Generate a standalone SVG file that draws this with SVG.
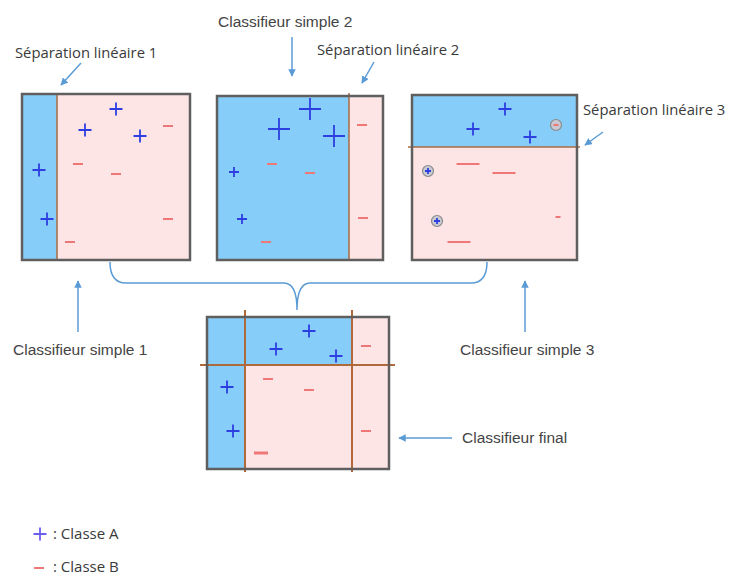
<svg xmlns="http://www.w3.org/2000/svg" xmlns:xlink="http://www.w3.org/1999/xlink" width="729" height="576" viewBox="0 0 729 576">
<style>
.blue{fill:#86cdf9}
.pink{fill:#fde5e5}
.frame{fill:none;stroke:#5f5f5f;stroke-width:2.5}
.sep{stroke:#a86a40;stroke-width:1.5;fill:none}
.sep2{stroke:#b0693a;stroke-width:2;fill:none}
.plus{stroke:#2d3fe0;stroke-width:1.8;fill:none}
.minus{stroke:#f07777;stroke-width:2;fill:none}
.circ{fill:#c9c9d4;stroke:#8a8a8a;stroke-width:1.2}
.arrow{stroke:#5b9bd5;stroke-width:1.5;fill:none}
.lbl{font-family:"Open Sans","Liberation Sans",sans-serif;font-size:14.8px;fill:#3a3a3a}
.leg{font-family:"Open Sans","Liberation Sans",sans-serif;font-size:15px;fill:#3a3a3a}
.cls{font-family:"Liberation Sans",Arial,sans-serif;font-size:15.5px;fill:#444}
</style>
<defs>
<path id="p" d="M-6.5,0H6.5M0,-6.5V6.5"/>
<path id="ps" d="M-5,0H5M0,-5V5"/>
<path id="P" d="M-11,0H11M0,-11V11"/>
<path id="pc" d="M-3,0H3M0,-3V3"/>
<path id="m" d="M-5,0H5"/>
<path id="M" d="M-11.5,0H11.5"/>
<path id="mt" d="M-2.5,0H2.5"/>
<marker id="ah" viewBox="0 0 10 10" refX="9" refY="5" markerWidth="5" markerHeight="5" orient="auto-start-reverse">
<path d="M0,0L10,5L0,10z" fill="#5b9bd5"/>
</marker>
</defs>

<g id="box1">
<rect class="blue" x="22" y="94" width="35" height="166"/>
<rect class="pink" x="57" y="94" width="133" height="166"/>
<line class="sep" x1="57" y1="93" x2="57" y2="261"/>
<rect class="frame" x="22" y="94" width="168" height="166"/>
<g class="plus">
<use href="#p" x="116" y="109"/><use href="#p" x="85" y="130"/><use href="#p" x="140" y="136"/>
<use href="#p" x="39" y="170"/><use href="#p" x="47" y="219"/>
</g>
<g class="minus">
<use href="#m" x="168" y="126"/><use href="#m" x="78" y="164"/><use href="#m" x="116" y="174"/>
<use href="#m" x="168" y="219"/><use href="#m" x="70" y="242"/>
</g>
</g>

<g id="box2">
<rect class="blue" x="217" y="96" width="132" height="164"/>
<rect class="pink" x="349" y="96" width="34" height="164"/>
<line class="sep" x1="349" y1="93" x2="349" y2="261"/>
<rect class="frame" x="217" y="96" width="166" height="164"/>
<g class="plus">
<use href="#P" x="310" y="109"/><use href="#P" x="279" y="129"/><use href="#P" x="334" y="136"/>
<use href="#ps" x="234" y="172"/><use href="#ps" x="242" y="219"/>
</g>
<g class="minus">
<use href="#m" x="362" y="125"/><use href="#m" x="272" y="164"/><use href="#m" x="310" y="173"/>
<use href="#m" x="363" y="218"/><use href="#m" x="266" y="242"/>
</g>
</g>

<g id="box3">
<rect class="blue" x="412" y="95" width="165" height="52"/>
<rect class="pink" x="412" y="147" width="165" height="113"/>
<line class="sep" x1="408" y1="147" x2="580" y2="147"/>
<rect class="frame" x="412" y="95" width="165" height="165"/>
<g class="plus">
<use href="#p" x="505" y="109"/><use href="#p" x="473" y="129"/><use href="#p" x="530" y="137"/>
</g>
<circle class="circ" cx="556" cy="125" r="5.5"/>
<circle class="circ" cx="428" cy="171" r="5.5"/>
<circle class="circ" cx="437" cy="221" r="5.5"/>
<g class="plus">
<use href="#pc" x="428" y="171"/><use href="#pc" x="437" y="221"/>
</g>
<g class="minus">
<path d="M553.5,125H558.5"/>
<use href="#M" x="468" y="164"/><use href="#M" x="504" y="173"/>
<use href="#mt" x="558" y="217"/><use href="#M" x="459" y="242"/>
</g>
</g>

<g id="final">
<rect class="pink" x="207" y="317" width="182" height="152"/>
<rect class="blue" x="207" y="317" width="38" height="152"/>
<rect class="blue" x="245" y="317" width="107" height="48"/>
<line class="sep2" x1="245" y1="310" x2="245" y2="472"/>
<line class="sep2" x1="352" y1="310" x2="352" y2="472"/>
<line class="sep2" x1="200" y1="365" x2="395" y2="365"/>
<rect class="frame" x="207" y="317" width="182" height="152"/>
<g class="plus">
<use href="#p" x="309" y="331"/><use href="#p" x="276" y="349"/><use href="#p" x="336" y="356"/>
<use href="#p" x="227" y="387"/><use href="#p" x="233" y="431"/>
</g>
<g class="minus">
<use href="#m" x="366" y="346"/><use href="#m" x="268" y="379"/><use href="#m" x="309" y="390"/>
<use href="#m" x="366" y="431"/><path d="M254,453H268" style="stroke-width:3"/>
</g>
</g>

<g id="connectors">
<path class="arrow" d="M110,262Q110,283 126,283H284Q297,283 297,310Q297,283 310,283H471Q487,283 487,262"/>
<line class="arrow" x1="81" y1="63" x2="61" y2="85" marker-end="url(#ah)"/>
<line class="arrow" x1="292" y1="37" x2="292" y2="76" marker-end="url(#ah)"/>
<line class="arrow" x1="374" y1="62" x2="362" y2="83" marker-end="url(#ah)"/>
<line class="arrow" x1="603" y1="132" x2="585" y2="145" marker-end="url(#ah)"/>
<line class="arrow" x1="78" y1="332" x2="78" y2="281" marker-end="url(#ah)"/>
<line class="arrow" x1="525" y1="332" x2="525" y2="281" marker-end="url(#ah)"/>
<line class="arrow" x1="452" y1="438" x2="399" y2="438" marker-end="url(#ah)"/>
</g>

<g id="labels">
<text class="lbl" x="15" y="58">Séparation linéaire 1</text>
<text class="cls" x="218" y="27">Classifieur simple 2</text>
<text class="lbl" x="317" y="55">Séparation linéaire 2</text>
<text class="lbl" x="583" y="115">Séparation linéaire 3</text>
<text class="cls" x="13" y="355">Classifieur simple 1</text>
<text class="cls" x="460" y="355">Classifieur simple 3</text>
<text class="cls" x="462" y="443">Classifieur final</text>
</g>

<g id="legend">
<use href="#p" x="40" y="534" class="plus" style="stroke:#6a5df0"/>
<text class="leg" x="53" y="539">: Classe A</text>
<use href="#m" x="39" y="568" class="minus"/>
<text class="leg" x="53" y="572">: Classe B</text>
</g>
</svg>
